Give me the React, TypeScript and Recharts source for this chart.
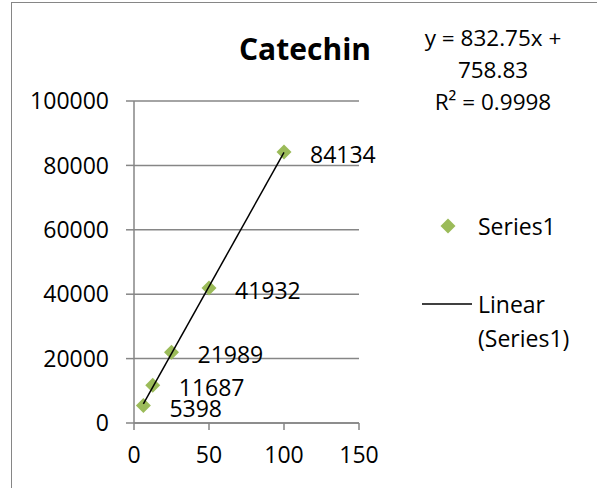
import React from 'react'
import {
  ScatterChart, Scatter, XAxis, YAxis, CartesianGrid, LabelList,
} from 'recharts'

// concentration vs peak area
const concentrations = [6.25, 12.5, 25, 50, 100]
const areas = [5398, 11687, 21989, 41932, 84134]

const xTicks = [0, 50, 100, 150]
const yTicks = [0, 20000, 40000, 60000, 80000, 100000]

// Excel linear trendline, as printed on the chart
const slope = 832.75
const intercept = 758.83
const rSquared = 0.9998
const trendX = [6.25, 100]

const points = concentrations.map((x, i) => ({ x, y: areas[i] }))
const trend = trendX.map(x => ({ x, y: slope * x + intercept }))

const GREEN = '#9BBB59'
const GRID = '#868686'
const FONT = '"Open Sans", sans-serif'

const Diamond = (props: any) => {
  const { cx, cy } = props
  const r = 7.5
  return (
    <polygon
      points={`${cx},${cy - r} ${cx + r},${cy} ${cx},${cy + r} ${cx - r},${cy}`}
      fill={GREEN}
    />
  )
}

const NoDot = () => <g />

const PointLabel = (props: any) => {
  const { x, y, width, height, value } = props
  const cx = x + width / 2
  const cy = y + height / 2
  return (
    <text x={cx + 26} y={cy + 2} fill="#000" fontSize={23} fontFamily={FONT} dominantBaseline="central">
      {value}
    </text>
  )
}

const LegendBox = () => (
  <div style={{ position: 'absolute', left: 421, top: 200, width: 170, height: 160, fontFamily: FONT, fontSize: 23, color: '#000' }}>
    <svg width={60} height={130} style={{ position: 'absolute', left: 0, top: 0 }}>
      <polygon points="27,18.5 34.5,26 27,33.5 19.5,26" fill={GREEN} />
      <line x1={1} y1={104} x2={51} y2={104} stroke="#000" strokeWidth={1.5} />
    </svg>
    <div style={{ position: 'absolute', left: 57, top: 9, lineHeight: '34px', whiteSpace: 'nowrap' }}>Series1</div>
    <div style={{ position: 'absolute', left: 57, top: 87, lineHeight: '34px', whiteSpace: 'nowrap' }}>
      Linear<br />(Series1)
    </div>
  </div>
)

export default function App() {
  return (
    <div style={{ position: 'fixed', left: 0, top: 0, width: 597, height: 488, background: '#fff', overflow: 'hidden' }}>
      <div style={{ position: 'absolute', left: 11, top: 2, width: 600, height: 500, borderLeft: `1px solid ${GRID}`, borderTop: `1px solid ${GRID}` }} />
      <ScatterChart width={597} height={488} margin={{ top: 101, right: 238, bottom: 35, left: 0 }}>
        <CartesianGrid vertical={false} stroke={GRID} strokeWidth={1.5} />
        <XAxis
          type="number"
          dataKey="x"
          domain={[0, 150]}
          ticks={xTicks}
          interval={0}
          height={30}
          stroke={GRID}
          strokeWidth={1.5}
          tickSize={7}
          tickMargin={17}
          tick={{ fill: '#000', fontSize: 23, fontFamily: FONT }}
        />
        <YAxis
          type="number"
          dataKey="y"
          domain={[0, 100000]}
          ticks={yTicks}
          interval={0}
          width={134}
          stroke={GRID}
          strokeWidth={1.5}
          tickSize={8}
          tickMargin={17}
          tick={{ fill: '#000', fontSize: 23, fontFamily: FONT }}
        />
        <Scatter name="Series1" data={points} shape={<Diamond />} isAnimationActive={false}>
          <LabelList dataKey="y" content={<PointLabel />} />
        </Scatter>
        <Scatter
          name="Linear (Series1)"
          data={trend}
          line={{ stroke: '#000', strokeWidth: 1.5 }}
          shape={<NoDot />}
          isAnimationActive={false}
        />
      </ScatterChart>
      <LegendBox />
      <div style={{ position: 'absolute', left: 200, width: 210, top: 28, textAlign: 'center', fontFamily: FONT, fontWeight: 700, fontSize: 30 }}>
        Catechin
      </div>
      <div style={{ position: 'absolute', left: 403, width: 180, top: 22, textAlign: 'center', fontFamily: FONT, fontSize: 22.5, lineHeight: '32px', color: '#000' }}>
        y = {slope}x +<br />{intercept}<br />R² = {rSquared}
      </div>
    </div>
  )
}
